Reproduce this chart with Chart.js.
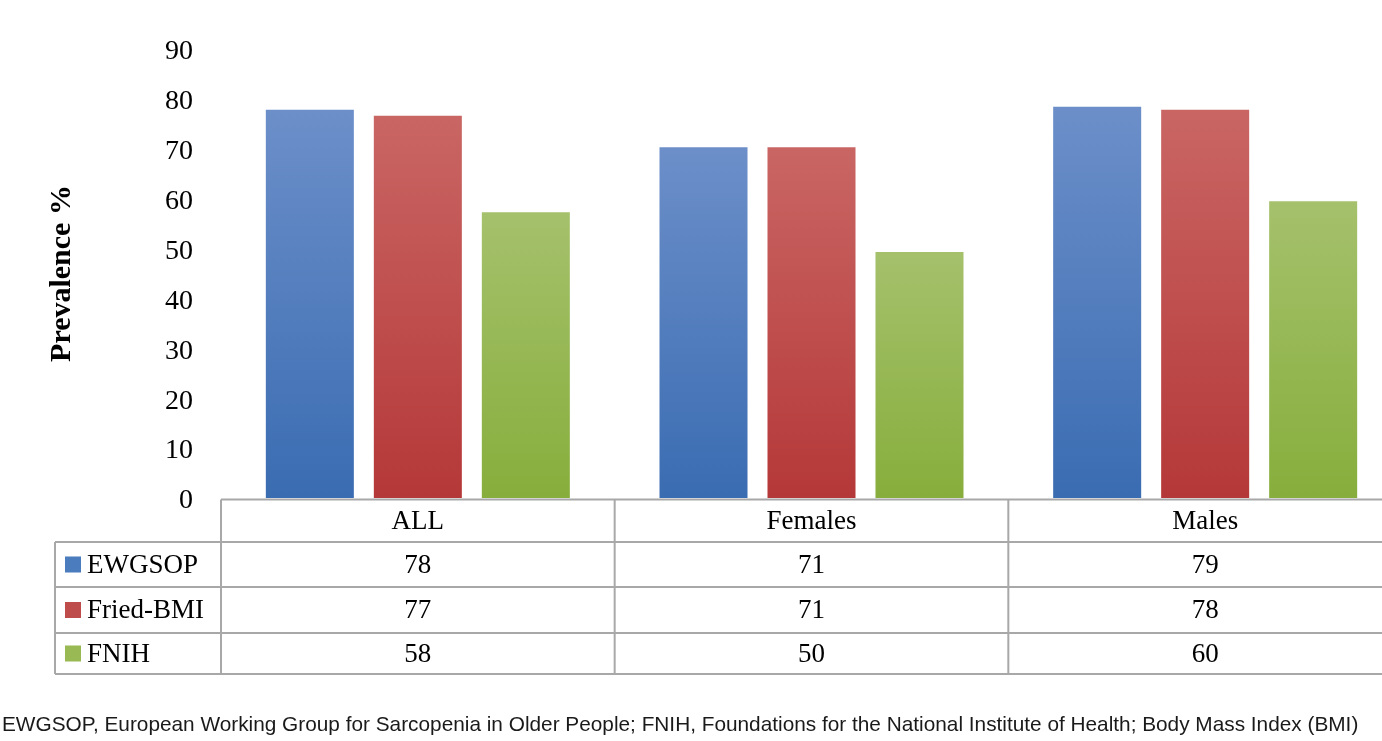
<!DOCTYPE html>
<html>
<head>
<meta charset="utf-8">
<script src="https://cdn.jsdelivr.net/npm/chart.js@4"></script>
<style>
  html, body { margin: 0; padding: 0; background: #fff; overflow: hidden; }
  #wrap { position: relative; width: 1382px; height: 741px; overflow: hidden; }
  #note { position: absolute; left: 2px; top: 712px; font-family: "Liberation Sans", Arial, sans-serif;
          font-size: 20.8px; color: #1a1a1a; white-space: nowrap; }
</style>
</head>
<body>
<div id="wrap">
  <canvas id="myChart" width="1410" height="741"></canvas>
  <div id="note">EWGSOP, European Working Group for Sarcopenia in Older People; FNIH, Foundations for the National Institute of Health; Body Mass Index (BMI)</div>
</div>
<script>
// categories and series
const categories = ["ALL", "Females", "Males"];
const seriesNames = ["EWGSOP", "Fried-BMI", "FNIH"];

// bar heights
const ewgsop = [77.8, 70.3, 78.4];
const friedBmi = [76.6, 70.3, 77.8];
const fnih = [57.3, 49.3, 59.5];

// numbers printed in the data table
const ewgsopTable = ["78", "71", "79"];
const friedBmiTable = ["77", "71", "78"];
const fnihTable = ["58", "50", "60"];

const yTicks = [0, 10, 20, 30, 40, 50, 60, 70, 80, 90];

// top / bottom colours of each gradient, plus the legend key colour
const COLORS = {
  blue:  { top: "rgb(108,143,201)", bottom: "rgb(58,108,178)", key: "rgb(74,124,190)" },
  red:   { top: "rgb(201,102,100)", bottom: "rgb(181,56,56)",  key: "rgb(190,76,74)" },
  green: { top: "rgb(165,193,108)", bottom: "rgb(135,174,60)", key: "rgb(152,185,84)" }
};

const SERIF = "'Liberation Serif', 'Times New Roman', serif";

function barGradient(c) {
  return function (context) {
    const chart = context.chart;
    const area = chart.chartArea;
    if (!area) return c.bottom;
    const v = context.raw;
    const yTop = chart.scales.y.getPixelForValue(v);
    const yBot = chart.scales.y.getPixelForValue(0);
    const g = chart.ctx.createLinearGradient(0, yTop, 0, yBot);
    g.addColorStop(0, c.top);
    g.addColorStop(1, c.bottom);
    return g;
  };
}

// draws the data table under the plot
const tablePlugin = {
  id: "dataTable",
  afterDraw(chart) {
    const ctx = chart.ctx;
    const x = chart.scales.x;
    const area = chart.chartArea;
    const catW = (area.right - area.left) / categories.length;
    const rows = [area.bottom + 1.5, 542, 587, 633, 674];
    const leftEdge = 55;
    const tableRows = [ewgsopTable, friedBmiTable, fnihTable];
    const keys = [COLORS.blue.key, COLORS.red.key, COLORS.green.key];

    ctx.save();
    ctx.strokeStyle = "#a8a8a8";
    ctx.lineWidth = 2;
    ctx.beginPath();
    // horizontal lines
    ctx.moveTo(area.left, rows[0]); ctx.lineTo(chart.width, rows[0]);
    for (let r = 1; r < rows.length; r++) {
      ctx.moveTo(leftEdge, rows[r]); ctx.lineTo(chart.width, rows[r]);
    }
    // vertical lines
    ctx.moveTo(leftEdge, rows[1]); ctx.lineTo(leftEdge, rows[4]);
    for (let i = 0; i <= categories.length; i++) {
      const xx = area.left + i * catW;
      ctx.moveTo(xx, rows[0]); ctx.lineTo(xx, rows[4]);
    }
    ctx.stroke();

    ctx.fillStyle = "#000";
    ctx.font = "27px " + SERIF;
    ctx.textAlign = "center";
    ctx.textBaseline = "middle";
    categories.forEach(function (cat, i) {
      const cx = x.getPixelForValue(i);
      ctx.fillText(cat, cx, (rows[0] + rows[1]) / 2 + 1);
      tableRows.forEach(function (vals, r) {
        ctx.fillText(vals[i], cx, (rows[r + 1] + rows[r + 2]) / 2 + 1);
      });
    });

    ctx.textAlign = "left";
    seriesNames.forEach(function (name, r) {
      const cy = (rows[r + 1] + rows[r + 2]) / 2;
      ctx.fillStyle = keys[r];
      ctx.fillRect(65, cy - 8, 16, 16);
      ctx.fillStyle = "#000";
      ctx.fillText(name, 87, cy + 1);
    });
    ctx.restore();
  }
};

const data = {
  labels: categories,
  datasets: [
    { label: seriesNames[0], data: ewgsop, backgroundColor: barGradient(COLORS.blue) },
    { label: seriesNames[1], data: friedBmi, backgroundColor: barGradient(COLORS.red) },
    { label: seriesNames[2], data: fnih, backgroundColor: barGradient(COLORS.green) }
  ]
};

const config = {
  type: "bar",
  data: data,
  options: {
    responsive: false,
    animation: false,
    categoryPercentage: 0.823,
    barPercentage: 0.815,
    layout: { padding: { top: 49, bottom: 243, left: 0, right: 8 } },
    plugins: {
      legend: { display: false },
      tooltip: { enabled: false }
    },
    scales: {
      x: { display: false },
      y: {
        min: 0,
        max: 90,
        afterBuildTicks: function (scale) {
          scale.ticks = yTicks.map(function (v) { return { value: v }; });
        },
        afterFit: function (scale) { scale.width = 221; },
        grid: { display: false, drawTicks: false },
        border: { display: false },
        ticks: {
          padding: 28,
          labelOffset: 3,
          color: "#000",
          font: { family: SERIF, size: 28 }
        },
        title: {
          display: true,
          text: "Prevalence %",
          color: "#000",
          padding: { top: 44, bottom: 0 },
          font: { family: SERIF, size: 30, weight: "bold" }
        }
      }
    }
  },
  plugins: [tablePlugin]
};

const myChart = new Chart(document.getElementById("myChart"), config);
</script>
</body>
</html>
